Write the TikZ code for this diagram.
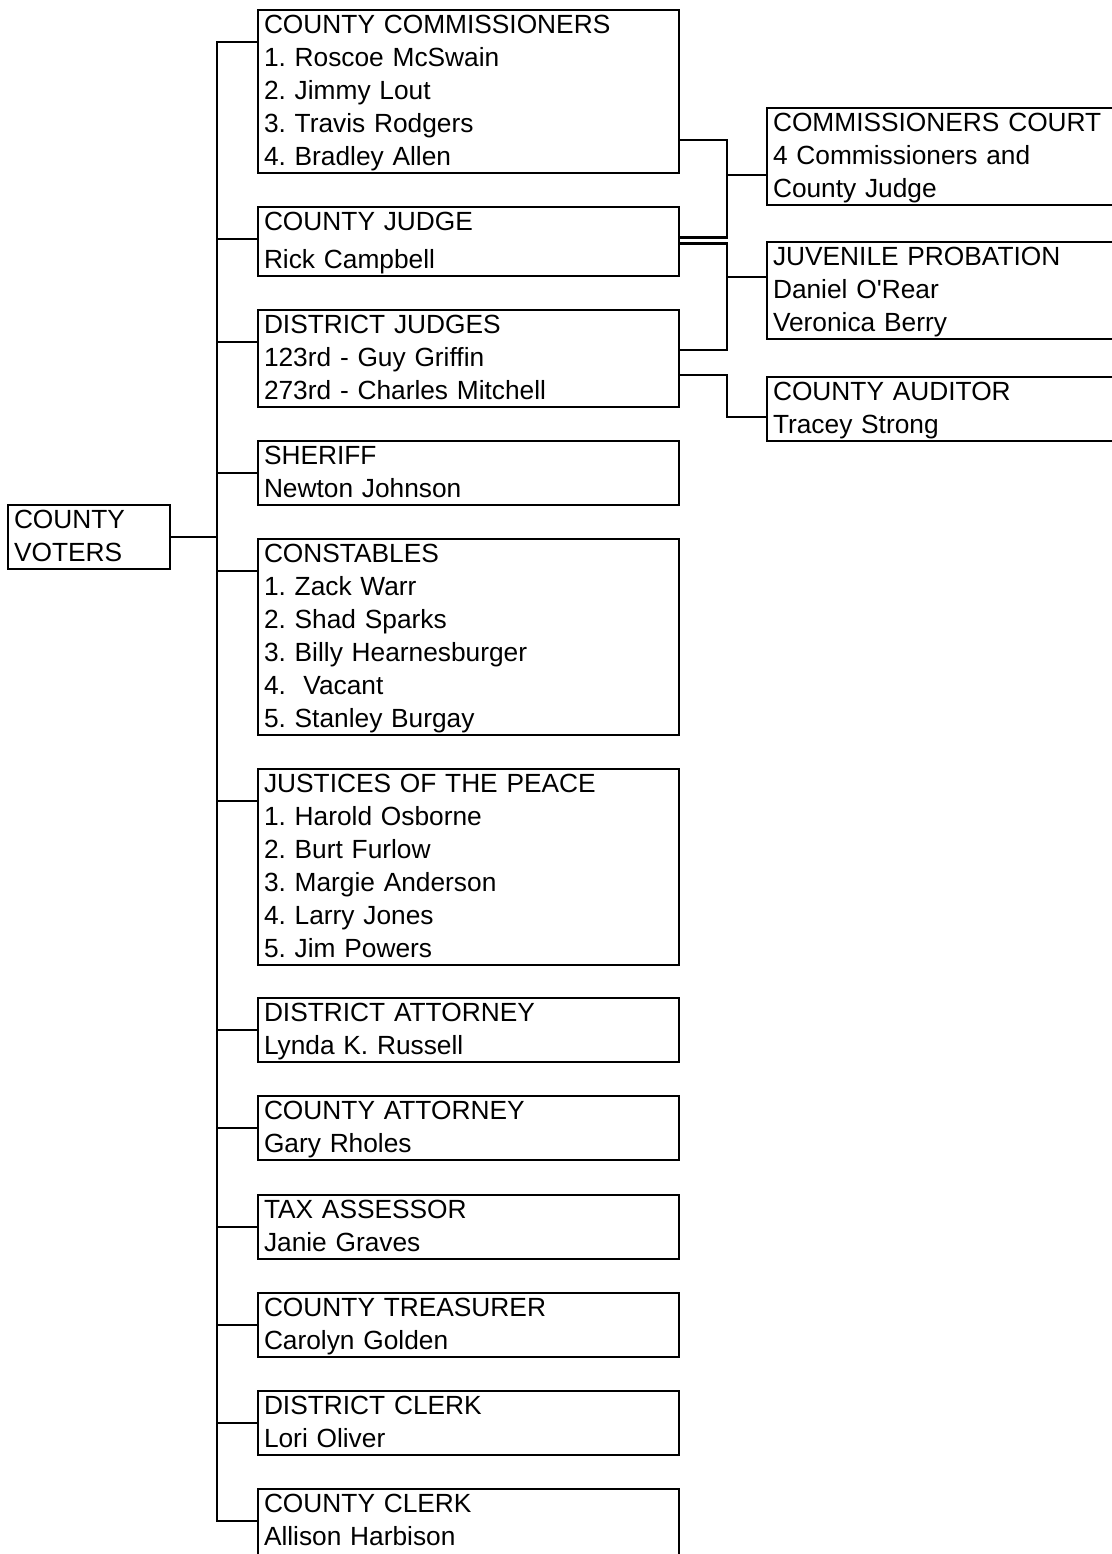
\documentclass[tikz,border=0pt]{standalone}
\usepackage{fontspec}
\setmainfont{Liberation Sans}
\newcommand{\ls}{\rule[-7.5pt]{0pt}{31pt}}

\begin{document}
\frenchspacing
\begin{tikzpicture}[x=1pt, y=-1pt,
  office/.style={draw, anchor=north west, line width=2.8pt, outer sep=0pt,
    inner xsep=6pt, inner ysep=0pt, align=left, text width=409pt,
    font=\fontsize{26.3}{33}\selectfont,
    execute at begin node=\ls, execute at end node=\ls},
  board/.style={office, text width=339pt},
  link/.style={line width=2.8pt}
]
\useasboundingbox (0,0) rectangle (1111,1554);
% --- voters and the elected offices ---
\node[office, text width=150pt] (voters) at (8,505) {COUNTY\\VOTERS};
\coordinate (hub) at ([xshift=47pt]voters.east);
\node[office] (cc) at (258,10)
  {COUNTY COMMISSIONERS\\1. Roscoe McSwain\\2. Jimmy Lout\\3. Travis Rodgers\\4. Bradley Allen};
\node[office] (cj) at (258,207) {COUNTY JUDGE\\[5pt]Rick Campbell};
\node[office] (dj) at (258,310)
  {DISTRICT JUDGES\\123rd - Guy Griffin\\273rd - Charles Mitchell};
\node[office] (sh) at (258,441) {SHERIFF\\Newton Johnson};
\node[office] (cn) at (258,539)
  {CONSTABLES\\1. Zack Warr\\2. Shad Sparks\\3. Billy Hearnesburger\\4.\ \ Vacant\\5. Stanley Burgay};
\node[office] (jp) at (258,769)
  {JUSTICES OF THE PEACE\\1. Harold Osborne\\2. Burt Furlow\\3. Margie Anderson\\4. Larry Jones\\5. Jim Powers};
\node[office] (da) at (258,998) {DISTRICT ATTORNEY\\Lynda K. Russell};
\node[office] (ca) at (258,1096) {COUNTY ATTORNEY\\Gary Rholes};
\node[office] (ta) at (258,1195) {TAX ASSESSOR\\Janie Graves};
\node[office] (ct) at (258,1293) {COUNTY TREASURER\\Carolyn Golden};
\node[office] (dc) at (258,1391) {DISTRICT CLERK\\Lori Oliver};
\node[office] (ck) at (258,1489) {COUNTY CLERK\\Allison Harbison\rule[-25pt]{0pt}{0pt}};
% --- appointed bodies ---
\node[board] (court) at (767,108) {COMMISSIONERS COURT\\4 Commissioners and\\County Judge};
\node[board] (juv) at (767,242) {JUVENILE PROBATION\\Daniel O\textquotesingle Rear\\Veronica Berry};
\node[board] (aud) at (767,377) {COUNTY AUDITOR\\Tracey Strong};
% --- tree on the left ---
\draw[link] (voters.east) -- (hub);
\foreach \o in {cc,cj,dj,sh,cn,jp,da,ca,ta,ct,dc,ck}
  \draw[link] ([yshift=-32pt]\o.north west) -| (hub);
% --- links on the right ---
\coordinate (j1) at (727,237.5);
\coordinate (j2) at (727,350);
\coordinate (j3) at (727,417);
\draw[link] ([yshift=-130pt]cc.north east) -| (j1) -- ([yshift=-30.5pt]cj.north east);
\draw[link] ([yshift=-67pt]court.north west) -| (j1);
\draw[link] ([yshift=-36.5pt]cj.north east) -| (j2) -- ([yshift=-40pt]dj.north east);
\draw[link] ([yshift=-35pt]juv.north west) -| (j2);
\draw[link] ([yshift=-65pt]dj.north east) -| (j3) -- ([yshift=-40pt]aud.north west);
\end{tikzpicture}
\end{document}
